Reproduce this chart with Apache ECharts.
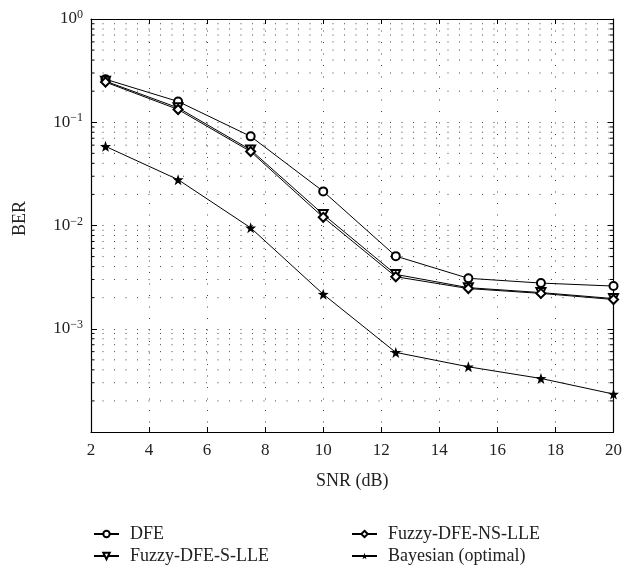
<!DOCTYPE html>
<html><head><meta charset="utf-8">
<script src="https://cdn.jsdelivr.net/npm/echarts@6/dist/echarts.min.js"></script>
<style>html,body{margin:0;padding:0;background:#fff}#c{width:625px;height:569px}</style>
</head><body><div id="c"></div>
<script>
const snr = [2.5, 5, 7.5, 10, 12.5, 15, 17.5, 20];
const berDFE = [0.261, 0.159, 0.073, 0.0214, 0.00505, 0.00308, 0.00277, 0.00259];
const berSLLE = [0.250, 0.138, 0.054, 0.0128, 0.00336, 0.00250, 0.00224, 0.00196];
const berNSLLE = [0.245, 0.133, 0.052, 0.0120, 0.00319, 0.00245, 0.00220, 0.00192];
const berBayes = [0.0584, 0.0278, 0.0095, 0.00216, 0.00059, 0.000428, 0.00033, 0.000233];
const xTicks = [2, 4, 6, 8, 10, 12, 14, 16, 18, 20];
const names = ['DFE', 'Fuzzy-DFE-S-LLE', 'Fuzzy-DFE-NS-LLE', 'Bayesian (optimal)'];

const minorVals = [];
[-4, -3, -2, -1].forEach(e => { for (let k = 2; k <= 9; k++) minorVals.push([2, k * Math.pow(10, e)]); });

const FONT = '"Liberation Serif", "DejaVu Serif", serif';
const star = 'path://M0,-10 L2.35,-3.24 L9.51,-3.09 L3.8,1.24 L5.88,8.09 L0,4 L-5.88,8.09 L-3.8,1.24 L-9.51,-3.09 L-2.35,-3.24 Z';
const pair = a => snr.map((x, i) => [x, a[i]]);

const lineBase = {type: 'line', lineStyle: {color: '#000', width: 1}, itemStyle: {color: '#000'}, z: 5};
const dotted = {color: '#444', width: 1, type: [1, 10.5]};

function legendAt(name, left, top) {
  return {
    left: left, top: top, itemWidth: 25, itemHeight: 8,
    textStyle: {fontFamily: FONT, fontSize: 18, color: '#222', padding: [0, 0, 0, 6]},
    data: [name]
  };
}

const chart = echarts.init(document.getElementById('c'));
chart.setOption({
  animation: false,
  backgroundColor: '#fff',
  grid: {left: 91, right: 9, top: 19, bottom: 137},
  xAxis: [{
    type: 'value', min: 2, max: 20, interval: 2,
    name: 'SNR (dB)', nameLocation: 'middle', nameGap: 40,
    nameTextStyle: {fontFamily: FONT, fontSize: 18, color: '#222'},
    axisLine: {lineStyle: {color: '#000', width: 1.2}},
    axisTick: {inside: true, length: 5, lineStyle: {color: '#000'}},
    axisLabel: {fontFamily: FONT, fontSize: 17, color: '#222', margin: 10},
    splitLine: {show: true, lineStyle: dotted}
  }, {
    type: 'value', min: 2, max: 20, interval: 2, position: 'top',
    axisLine: {lineStyle: {color: '#000', width: 1.2}},
    axisTick: {inside: true, length: 5, lineStyle: {color: '#000'}},
    axisLabel: {show: false}, splitLine: {show: false}
  }],
  yAxis: [{
    type: 'log', logBase: 10, min: 0.0001, max: 1,
    name: 'BER', nameLocation: 'middle', nameGap: 62,
    nameTextStyle: {fontFamily: FONT, fontSize: 18, color: '#222', padding: [0, 0, 0, 14]},
    axisLine: {show: true, lineStyle: {color: '#000', width: 1.2}},
    axisTick: {inside: true, length: 6, lineStyle: {color: '#000'}},
    axisLabel: {
      margin: 8,
      formatter: v => {
        const e = Math.round(Math.log10(v));
        if (e === -4) return '';
        return '{b|10}{s|' + (e === 0 ? '0' : '\u2212' + (-e)) + '}';
      },
      rich: {
        b: {fontFamily: FONT, fontSize: 17, lineHeight: 20, color: '#222'},
        s: {fontFamily: FONT, fontSize: 12, lineHeight: 12, color: '#222', verticalAlign: 'top', padding: [0, 0, 7, 0]}
      }
    },
    splitLine: {show: true, lineStyle: dotted}
  }, {
    type: 'log', logBase: 10, min: 0.0001, max: 1, position: 'right',
    axisLine: {show: true, lineStyle: {color: '#000', width: 1.2}},
    axisTick: {inside: true, length: 6, lineStyle: {color: '#000'}},
    axisLabel: {show: false}, splitLine: {show: false}
  }],
  legend: [
    legendAt(names[0], 88, 520),
    legendAt(names[1], 88, 542),
    legendAt(names[2], 346, 520),
    legendAt(names[3], 346, 542)
  ],
  series: [
    {
      type: 'custom', silent: true, z: 1, clip: false,
      data: minorVals,
      renderItem: (params, api) => {
        const v = api.value(1);
        const p0 = api.coord([2, v]);
        const p1 = api.coord([20, v]);
        return {type: 'group', children: [
          {type: 'line', shape: {x1: p0[0], y1: p0[1], x2: p1[0], y2: p1[1]}, style: {stroke: '#444', lineWidth: 1, lineDash: [1, 10.5]}},
          {type: 'line', shape: {x1: p0[0], y1: p0[1], x2: p0[0] + 3.5, y2: p0[1]}, style: {stroke: '#000', lineWidth: 1}},
          {type: 'line', shape: {x1: p1[0] - 3.5, y1: p1[1], x2: p1[0], y2: p1[1]}, style: {stroke: '#000', lineWidth: 1}}
        ]};
      }
    },
    Object.assign({}, lineBase, {name: names[0], data: pair(berDFE), symbol: 'emptyCircle', symbolSize: 8}),
    Object.assign({}, lineBase, {name: names[1], data: pair(berSLLE), symbol: 'emptyTriangle', symbolSize: 9, symbolRotate: 180}),
    Object.assign({}, lineBase, {name: names[2], data: pair(berNSLLE), symbol: 'emptyDiamond', symbolSize: 9}),
    Object.assign({}, lineBase, {name: names[3], data: pair(berBayes), symbol: star, symbolSize: 11})
  ]
});
</script></body></html>
